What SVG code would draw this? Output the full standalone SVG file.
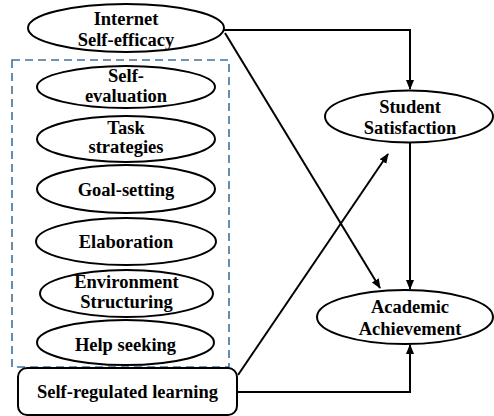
<svg xmlns="http://www.w3.org/2000/svg" width="494" height="416" viewBox="0 0 494 416">
  <style>
    .node ellipse, .node rect { fill: #fff; stroke: #000; stroke-width: 2; }
    .node text { font-family: 'Liberation Serif', serif; font-weight: 700; font-size: 18.5px; text-anchor: middle; fill: #000; }
    .edge { fill: none; stroke: #000; stroke-width: 2; }
    .group-box { fill: none; stroke: #41719C; stroke-width: 1.6; stroke-dasharray: 8 5; }
  </style>
  <defs>
    <marker id="arrow" markerWidth="10" markerHeight="10" refX="9" refY="5" orient="auto" markerUnits="userSpaceOnUse">
      <path d="M0,1 L10,5 L0,9 Z" fill="#000"/>
    </marker>
  </defs>

  <rect width="494" height="416" fill="#fff"/>

  <!-- dashed box around the self-regulated learning strategies -->
  <rect class="group-box" x="12" y="60" width="217" height="307"/>

  <g id="connectors">
    <polyline class="edge" points="224,30 410,30 410,89" marker-end="url(#arrow)"/>
    <line class="edge" x1="225" y1="33" x2="380" y2="288" marker-end="url(#arrow)"/>
    <line class="edge" x1="410" y1="143" x2="410" y2="289" marker-end="url(#arrow)"/>
    <line class="edge" x1="238" y1="375" x2="388" y2="154" marker-end="url(#arrow)"/>
    <polyline class="edge" points="237,392 410,392 410,345" marker-end="url(#arrow)"/>
  </g>

  <g id="internet-self-efficacy" class="node">
    <ellipse cx="126" cy="28" rx="98" ry="24"/>
    <text x="126" y="25">Internet</text>
    <text x="126" y="46">Self-efficacy</text>
  </g>

  <g id="self-evaluation" class="node">
    <ellipse cx="126" cy="87" rx="89" ry="21"/>
    <text x="126" y="82">Self-</text>
    <text x="126" y="102">evaluation</text>
  </g>

  <g id="task-strategies" class="node">
    <ellipse cx="126" cy="139" rx="89" ry="23"/>
    <text x="126" y="134">Task</text>
    <text x="126" y="153">strategies</text>
  </g>

  <g id="goal-setting" class="node">
    <ellipse cx="126" cy="189" rx="89" ry="24"/>
    <text x="126" y="196">Goal-setting</text>
  </g>

  <g id="elaboration" class="node">
    <ellipse cx="126" cy="241.5" rx="90" ry="23.5"/>
    <text x="126" y="248">Elaboration</text>
  </g>

  <g id="environment-structuring" class="node">
    <ellipse cx="126.5" cy="293.5" rx="86.5" ry="23.5"/>
    <text x="126.5" y="288">Environment</text>
    <text x="126.5" y="308">Structuring</text>
  </g>

  <g id="help-seeking" class="node">
    <ellipse cx="125.5" cy="342.5" rx="88.5" ry="22.5"/>
    <text x="125.5" y="351">Help seeking</text>
  </g>

  <g id="self-regulated-learning" class="node">
    <rect x="18" y="368" width="219" height="47" rx="9"/>
    <text x="127.5" y="398">Self-regulated learning</text>
  </g>

  <g id="student-satisfaction" class="node">
    <ellipse cx="409" cy="116.5" rx="84" ry="26"/>
    <text x="410" y="113">Student</text>
    <text x="410" y="134">Satisfaction</text>
  </g>

  <g id="academic-achievement" class="node">
    <ellipse cx="405" cy="317" rx="88" ry="27"/>
    <text x="410" y="313">Academic</text>
    <text x="410" y="335">Achievement</text>
  </g>
</svg>
